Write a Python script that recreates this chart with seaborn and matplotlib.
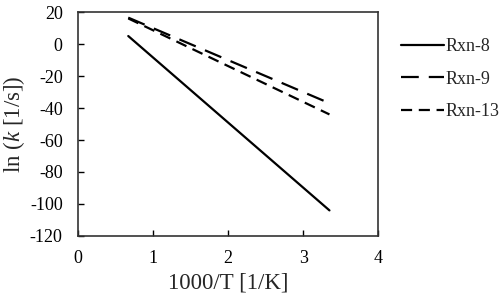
import matplotlib
matplotlib.use("Agg")
import matplotlib.pyplot as plt
import seaborn as sns
import pandas as pd

# data (1000/T, ln k)
x_vals = [0.67, 3.35]
rxn8 = [5.0, -104.0]
rxn9 = [16.5, -37.0]
rxn13 = [16.0, -44.0]
series_names = ["Rxn-8", "Rxn-9", "Rxn-13"]

sns.set_style("ticks")
plt.rcParams['font.family'] = 'serif'
plt.rcParams['font.serif'] = ['Liberation Serif']
plt.rcParams['axes.unicode_minus'] = False
plt.rcParams['mathtext.fontset'] = 'custom'
plt.rcParams['mathtext.it'] = 'Liberation Serif:italic'
plt.rcParams['mathtext.rm'] = 'Liberation Serif'

rows = []
for name, vals in zip(series_names, [rxn8, rxn9, rxn13]):
    for xv, yv in zip(x_vals, vals):
        rows.append({"x": xv, "y": yv, "Series": name})
df = pd.DataFrame(rows)

fig = plt.figure(figsize=(5.03, 3.01), dpi=100)
ax = fig.add_axes([0.155, 0.216, 0.597, 0.744])

styles = {"Rxn-8": "", "Rxn-9": (8, 4.5), "Rxn-13": (5, 3)}
sns.lineplot(data=df, x="x", y="y", style="Series", dashes=styles,
             color="black", linewidth=1.6, ax=ax, legend=True)

ax.set_xlim(0, 4)
ax.set_ylim(-120, 20)
ax.set_xticks([0, 1, 2, 3, 4])
ax.set_yticks(range(-120, 21, 20))
ax.tick_params(direction="in", length=4, width=1, labelsize=13, colors="black")
ax.tick_params(axis="y", pad=11)
ax.tick_params(axis="x", pad=10)
for s in ax.spines.values():
    s.set_color("#333333")
    s.set_linewidth(1.2)
ax.set_xlabel("1000/T [1/K]", fontsize=16.5, labelpad=4)
ax.set_ylabel(r"ln ($\mathit{k}$ [1/s])", fontsize=16.5, labelpad=2)

leg = ax.legend(loc="upper left", bbox_to_anchor=(1.02, 0.955), frameon=False,
                fontsize=13, handlelength=2.4, handletextpad=0.1, labelspacing=0.85)

fig.savefig("out.png", dpi=100)
